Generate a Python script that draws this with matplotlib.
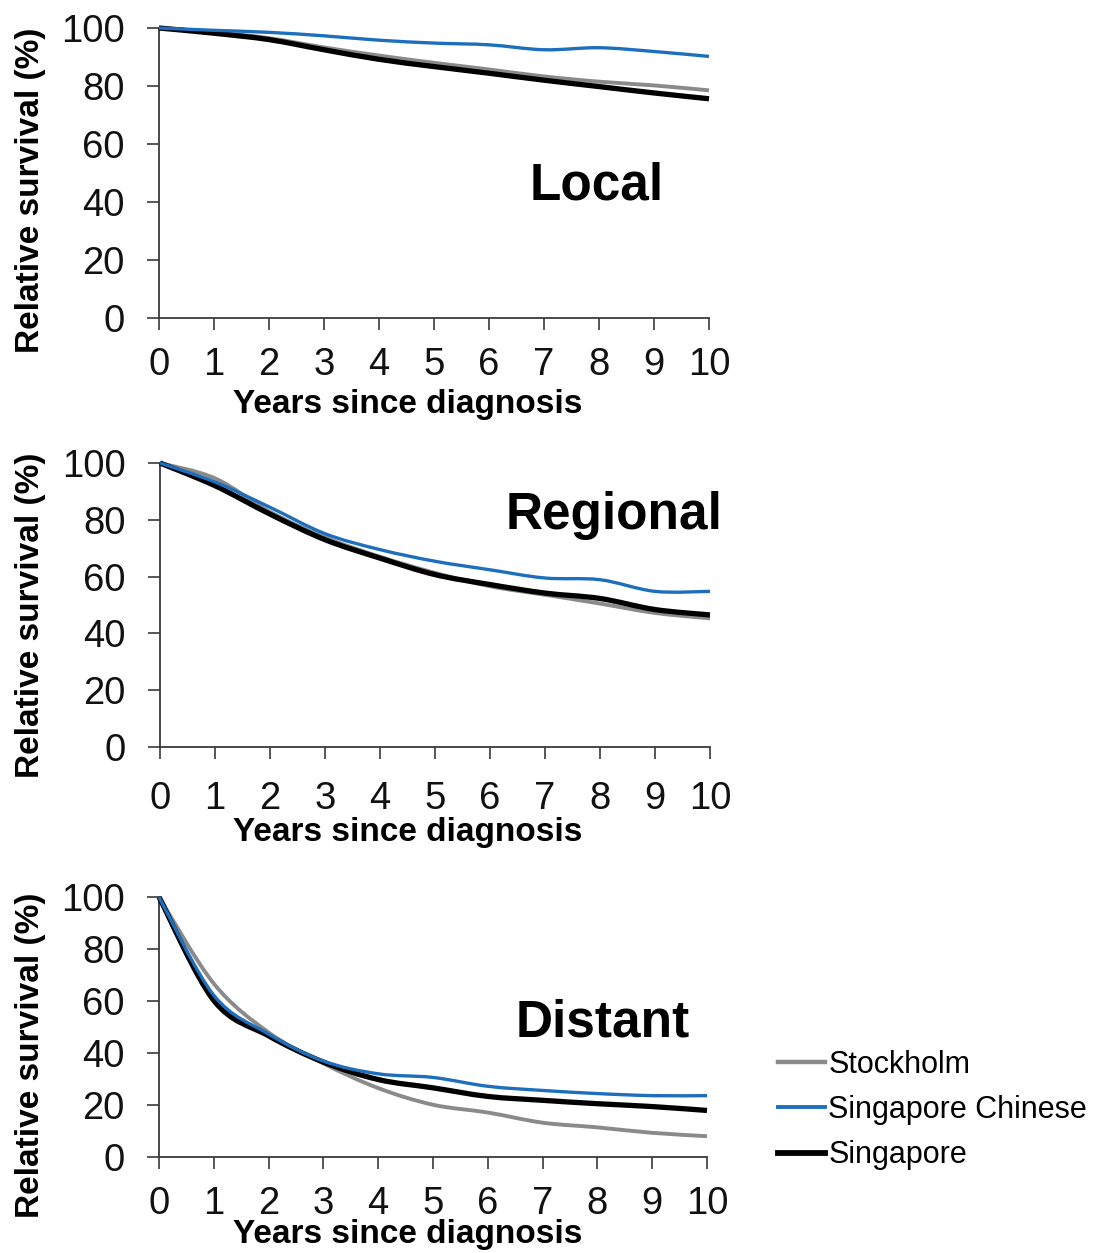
import matplotlib
matplotlib.use("Agg")
import matplotlib.pyplot as plt
from matplotlib.path import Path
from matplotlib.patches import PathPatch
from matplotlib.lines import Line2D

plt.rcParams['font.family'] = ['Liberation Sans', 'DejaVu Sans']

years = [0, 1, 2, 3, 4, 5, 6, 7, 8, 9, 10]
series_names = ["Stockholm", "Singapore Chinese", "Singapore"]
panel_titles = ["Local", "Regional", "Distant"]

local_stockholm = [100, 98.5, 96.5, 93.3, 90.5, 88.0, 85.7, 83.3, 81.5, 80.2, 78.5]
local_sg_chinese = [100, 99.2, 98.5, 97.3, 95.8, 94.8, 94.2, 92.5, 93.2, 91.9, 90.2]
local_singapore = [100, 98.2, 96.0, 92.5, 89.2, 86.7, 84.4, 82.0, 79.8, 77.6, 75.6]

regional_stockholm = [100, 94.6, 82.8, 73.8, 67.0, 61.3, 56.6, 53.6, 50.5, 47.2, 45.3]
regional_sg_chinese = [100, 93.3, 84.4, 75.1, 69.5, 65.4, 62.4, 59.5, 58.9, 54.8, 54.8]
regional_singapore = [100, 92.0, 82.0, 73.0, 66.5, 60.7, 57.2, 54.2, 52.3, 48.4, 46.5]

distant_stockholm = [100, 66.7, 47.9, 36.0, 26.5, 20.1, 17.1, 13.2, 11.4, 9.3, 8.0]
distant_sg_chinese = [100, 62.2, 47.3, 36.9, 32.0, 30.6, 27.2, 25.6, 24.4, 23.6, 23.6]
distant_singapore = [100, 60.2, 46.6, 36.5, 29.8, 26.6, 23.3, 21.8, 20.5, 19.4, 17.9]

yticks = [0, 20, 40, 60, 80, 100]
xticks = [0, 1, 2, 3, 4, 5, 6, 7, 8, 9, 10]
ylabel_text = "Relative survival (%)"
xlabel_text = "Years since diagnosis"

panels = [
    (local_stockholm, local_sg_chinese, local_singapore),
    (regional_stockholm, regional_sg_chinese, regional_singapore),
    (distant_stockholm, distant_sg_chinese, distant_singapore),
]


def smooth_path(xs, ys):
    """Excel-style smoothed line: cubic Bezier segments through the data points."""
    n = len(xs)
    verts = [(xs[0], ys[0])]
    codes = [Path.MOVETO]
    for k in range(n - 1):
        x0, y0 = xs[max(k - 1, 0)], ys[max(k - 1, 0)]
        x1, y1 = xs[k], ys[k]
        x2, y2 = xs[k + 1], ys[k + 1]
        x3, y3 = xs[min(k + 2, n - 1)], ys[min(k + 2, n - 1)]
        c1 = (x1 + (x2 - x0) / 6.0, y1 + (y2 - y0) / 6.0)
        c2 = (x2 - (x3 - x1) / 6.0, y2 - (y3 - y1) / 6.0)
        verts += [c1, c2, (x2, y2)]
        codes += [Path.CURVE4] * 3
    return Path(verts, codes)


W, H = 1100, 1253
fig = plt.figure(figsize=(W / 100, H / 100), dpi=100)

# axes boxes in pixels: left, right, top, bottom
boxes = [(159, 709, 28, 318), (160, 710, 463, 747), (159, 707, 897, 1157)]
title_pos = [(7.95, 45.5), (8.25, 81.5), (8.1, 51.5)]
ylabel_y = [0.441, 0.465, 0.392]
xlabel_off = [86, 85, 78]
xpads = [12.5, 16, 12.5]

colors = ['#8a8a8a', '#1d6fbe', '#000000']
lws = [2.8, 2.4, 3.8]
zorders = [2, 4, 3]
axis_col = '#3a3a3a'

for i, (data, box) in enumerate(zip(panels, boxes)):
    l, r, t, b = box
    ax = fig.add_axes([l / W, 1 - b / H, (r - l) / W, (b - t) / H])
    for j, vals in enumerate(data):
        patch = PathPatch(smooth_path(years, vals), fill=False, edgecolor=colors[j],
                          lw=lws[j], zorder=zorders[j], joinstyle='round',
                          capstyle='butt', clip_on=False)
        ax.add_patch(patch)
    ax.set_xlim(0, 10)
    ax.set_ylim(0, 100)
    ax.set_xticks(xticks)
    ax.set_yticks(yticks)
    for s in ['top', 'right']:
        ax.spines[s].set_visible(False)
    for s in ['left', 'bottom']:
        ax.spines[s].set_color(axis_col)
        ax.spines[s].set_linewidth(1.3)
    ax.tick_params(axis='both', direction='out', length=8.6, width=1.2, color=axis_col,
                   labelsize=27.5, labelcolor='#111111')
    ax.tick_params(axis='y', pad=16)
    ax.tick_params(axis='x', pad=xpads[i])
    ax.set_ylabel(ylabel_text, fontsize=24, fontweight='bold', va='center')
    ax.yaxis.set_label_coords((31 - l) / (r - l), ylabel_y[i])
    ax.set_xlabel(xlabel_text, fontsize=24, fontweight='bold', va='center')
    ax.xaxis.set_label_coords((408 - l) / (r - l), -xlabel_off[i] / (b - t))
    ax.text(title_pos[i][0], title_pos[i][1], panel_titles[i], fontsize=37,
            fontweight='bold', ha='center', va='center')
    ax.patch.set_alpha(0)

legend_handles = [Line2D([], [], color=colors[j], lw=lws[j] + 0.4) for j in range(3)]
fig.legend(legend_handles, series_names, loc='center left',
           bbox_to_anchor=(778 / W, 1 - 1110 / H), bbox_transform=fig.transFigure,
           frameon=False, fontsize=22, handlelength=1.55, handletextpad=0.1,
           labelspacing=0.5, borderpad=0, borderaxespad=0)

fig.savefig("out.png", dpi=100, facecolor='white')
